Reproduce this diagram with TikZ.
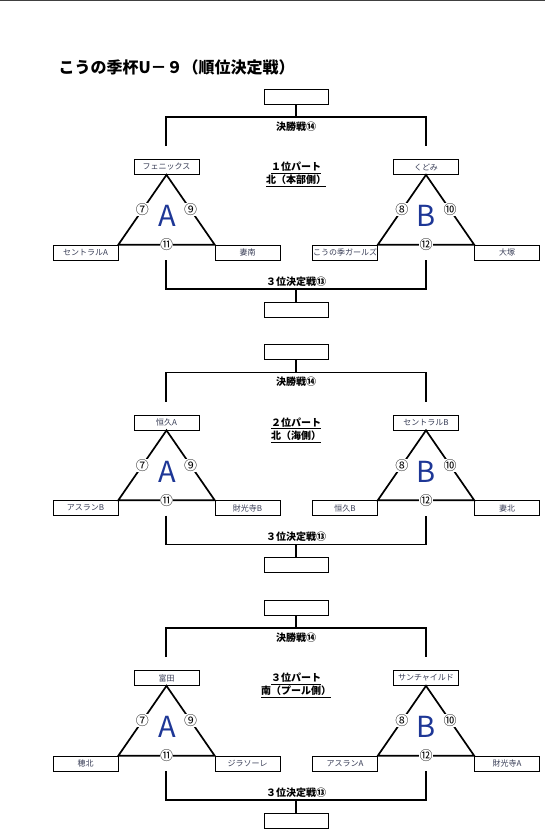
\documentclass[tikz,border=0pt]{standalone}
\usepackage{fontspec}
\setmainfont{Noto Sans CJK JP}
\usepackage{xcolor}
\usetikzlibrary{positioning}

\definecolor{grpblue}{RGB}{30,55,150}
\definecolor{teamtext}{RGB}{55,60,85}

\tikzset{
  team/.style={draw, line width=0.7pt, minimum width=65pt, minimum height=15pt,
    inner sep=0pt, text=teamtext, font=\fontsize{8}{9}\selectfont},
  result/.style={draw, line width=0.7pt, minimum width=64pt, minimum height=15pt, inner sep=0pt},
  link/.style={line width=1.7pt, line join=miter},
  num/.style={fill=white, inner sep=0.3pt, font=\fontsize{13}{13}\selectfont},
  game/.style={font=\fontsize{10}{10}\selectfont\bfseries},
  part/.style={font=\fontsize{10}{10}\selectfont\bfseries, inner sep=0pt},
  group/.style={text=grpblue, font=\fontsize{29}{29}\selectfont}
}

\begin{document}
\begin{tikzpicture}[x=1pt, y=-1pt]
  \useasboundingbox (0,0) rectangle (545,839);
  % edge of the sheet
  \draw[black!75, line width=1.5pt] (0,0.5) -- (545,0.5);
  % title
  \node[anchor=west, font=\fontsize{16}{16}\selectfont\bfseries] (title) at (55,67) {こうの季杯U－９（順位決定戦）};
  % one block per part: offset, index, part, side, then teams of A and B (top/left/right)
  \foreach \oy/\k/\rank/\area/\ta/\la/\ra/\tb/\lb/\rb in {
      0/1/１/北（本部側）/フェニックス/セントラルA/妻南/くどみ/こうの季ガールズ/大塚,
      255.5/2/２/北（海側）/恒久A/アスランB/財光寺B/セントラルB/恒久B/妻北,
      511/3/３/南（プール側）/富田/穂北/ジラソーレ/サンチャイルド/アスランA/財光寺A} {
    % final on top
    \node[result] (final\k) at (296,96.5+\oy) {};
    \coordinate (fm\k) at (296,117+\oy);
    \coordinate (fl\k) at (166,117+\oy);
    \coordinate (fr\k) at (426,117+\oy);
    \coordinate (fld\k) at (166,146+\oy);
    \coordinate (frd\k) at (426,146+\oy);
    \draw[link] (final\k.south) -- (fm\k);
    \draw[link] (fld\k) -- (fl\k) -- (fr\k) -- (frd\k);
    \node[game] (fgame\k) at (296,126.5+\oy) {決勝戦⑭};
    % part label
    \node[part] (rank\k) at (296,168+\oy) {\underline{\rank 位パート}};
    \node[part] (area\k) at (296,181+\oy) {\underline{\area}};
    % group A
    \node[team] (tA\k) at (166.5,167+\oy) {\ta};
    \node[team] (lA\k) at (85.5,252.5+\oy) {\la};
    \node[team] (rA\k) at (247.5,252.5+\oy) {\ra};
    \draw[link] (tA\k.south) -- node[num]{⑦} (lA\k.north east)
      -- node[num]{⑪} (rA\k.north west) -- node[num]{⑨} cycle;
    \node[group] (gA\k) at (167,216+\oy) {A};
    % group B
    \node[team] (tB\k) at (426,167+\oy) {\tb};
    \node[team] (lB\k) at (345,252.5+\oy) {\lb};
    \node[team] (rB\k) at (507,252.5+\oy) {\rb};
    \draw[link] (tB\k.south) -- node[num]{⑧} (lB\k.north east)
      -- node[num]{⑫} (rB\k.north west) -- node[num]{⑩} cycle;
    \node[group] (gB\k) at (426,216+\oy) {B};
    % third place below
    \coordinate (tu\k) at (166,260+\oy);
    \coordinate (tl\k) at (166,289+\oy);
    \coordinate (tr\k) at (426,289+\oy);
    \coordinate (tru\k) at (426,260+\oy);
    \coordinate (tm\k) at (296,289+\oy);
    \node[result] (third\k) at (296,309.5+\oy) {};
    \draw[link] (tu\k) -- (tl\k) -- (tr\k) -- (tru\k);
    \draw[link] (tm\k) -- (third\k.north);
    \node[game] (tgame\k) at (296,281.5+\oy) {３位決定戦⑬};
  }
\end{tikzpicture}
\end{document}
